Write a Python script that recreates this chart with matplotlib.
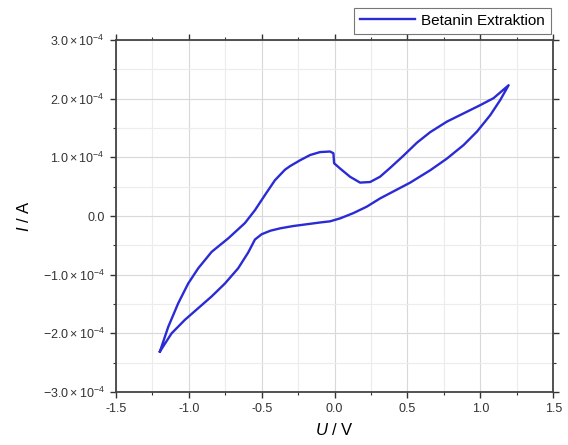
import matplotlib

matplotlib.use("Agg")
import matplotlib.pyplot as plt
from matplotlib.ticker import FuncFormatter, MultipleLocator

# cyclic voltammogram (U in V, I in 1e-4 A)
u_vals = [
    -1.198, -1.141, -1.073, -1.004, -0.935, -0.843, -0.729, -0.615, -0.546,
    -0.477, -0.409, -0.340, -0.306, -0.237, -0.168, -0.100, -0.031, -0.008,
    -0.003, 0.038, 0.106, 0.175, 0.244, 0.312, 0.381, 0.473, 0.565, 0.656,
    0.771, 0.885, 0.999, 1.091, 1.194,
    1.137, 1.068, 0.977, 0.885, 0.771, 0.656, 0.519, 0.404, 0.312, 0.221,
    0.129, 0.038, -0.031, -0.100, -0.191, -0.283, -0.374, -0.440, -0.500,
    -0.546, -0.592, -0.661, -0.752, -0.843, -0.935, -1.027, -1.118, -1.198,
]
i_vals = [
    -2.31, -1.89, -1.49, -1.15, -0.89, -0.61, -0.38, -0.12, 0.10,
    0.36, 0.61, 0.79, 0.85, 0.95, 1.04, 1.09, 1.10, 1.07,
    0.90, 0.81, 0.67, 0.57, 0.58, 0.67, 0.82, 1.03, 1.25, 1.43,
    1.61, 1.75, 1.89, 2.01, 2.23,
    1.98, 1.72, 1.44, 1.21, 0.98, 0.78, 0.57, 0.42, 0.30, 0.16,
    0.05, -0.04, -0.09, -0.11, -0.14, -0.17, -0.21, -0.25, -0.31,
    -0.40, -0.62, -0.89, -1.15, -1.37, -1.57, -1.77, -2.00, -2.31,
]
series_label = "Betanin Extraktion"

plt.rcParams["font.family"] = ["Liberation Sans", "DejaVu Sans"]
plt.rcParams["mathtext.fontset"] = "custom"
plt.rcParams["mathtext.rm"] = "Liberation Sans"
plt.rcParams["mathtext.it"] = "Liberation Sans:italic"


def sci_fmt(v, _pos):
    if abs(v) < 1e-12:
        return "0.0"
    m = v / 1e-4
    sign = "-" if m < 0 else ""
    return r"$%s%.1f\times10^{-4}$" % (sign, abs(m))


fig = plt.figure(figsize=(5.68, 4.45), dpi=100)
ax = fig.add_axes([0.204, 0.119, 0.770, 0.791])

ax.plot(u_vals, [v * 1e-4 for v in i_vals], color="#2b2bd6", lw=1.7,
        solid_joinstyle="round", label=series_label)

ax.set_xlim(-1.5, 1.5)
ax.set_ylim(-3e-4, 3e-4)
ax.xaxis.set_major_locator(MultipleLocator(0.5))
ax.xaxis.set_minor_locator(MultipleLocator(0.25))
ax.yaxis.set_major_locator(MultipleLocator(1e-4))
ax.yaxis.set_minor_locator(MultipleLocator(0.5e-4))
ax.yaxis.set_major_formatter(FuncFormatter(sci_fmt))
ax.xaxis.set_major_formatter(FuncFormatter(lambda v, p: "%.1f" % v))

ax.grid(which="major", color="#d8d8d8", lw=0.8)
ax.grid(which="minor", color="#ececec", lw=0.8)
ax.set_axisbelow(True)

ax.tick_params(which="both", direction="out", labelsize=9, colors="#333333",
               top=True, right=True)
ax.tick_params(which="major", length=4, width=1, pad=4)
ax.tick_params(which="minor", length=2.5, width=0.8)
for s in ax.spines.values():
    s.set_linewidth(1.3)
    s.set_color("#444444")

ax.set_xlabel(r"$\mathit{U}$ / V", fontsize=12, labelpad=5)
ax.set_ylabel(r"$\mathit{I}$ / A", fontsize=12, labelpad=8)

leg = ax.legend(loc="lower right", bbox_to_anchor=(1.008, 1.0), fontsize=11,
                handlelength=3.6, borderaxespad=0.4, frameon=True,
                fancybox=False, borderpad=0.4, handletextpad=0.4)
leg.get_frame().set_edgecolor("#555555")
leg.get_frame().set_linewidth(0.8)

fig.savefig("out.png", dpi=100)
